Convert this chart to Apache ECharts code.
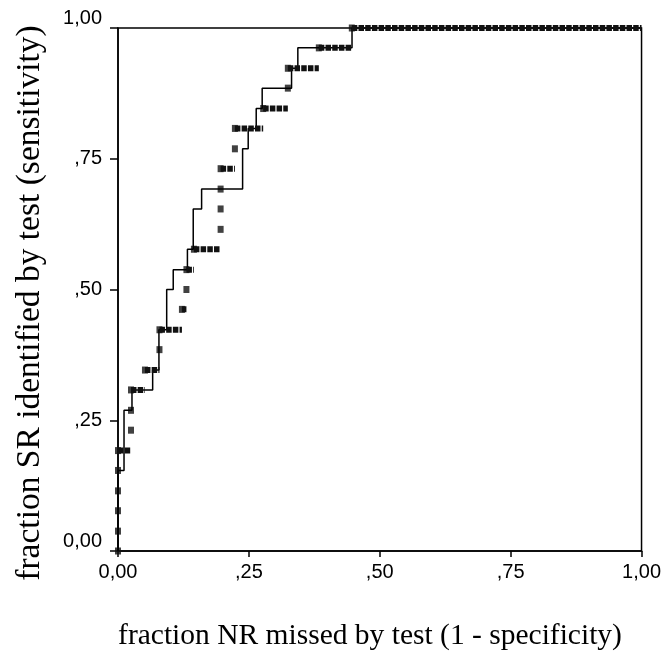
<!DOCTYPE html>
<html>
<head>
<meta charset="utf-8">
<script src="https://cdn.jsdelivr.net/npm/echarts@6/dist/echarts.min.js"></script>
<style>
  html, body { margin: 0; padding: 0; background: #fff; }
  #chart { width: 664px; height: 662px; }
</style>
</head>
<body>
<div id="chart"></div>
<script>
// tick labels (SPSS comma style)
const tickLabels = ['0,00', ',25', ',50', ',75', '1,00'];

// solid curve: x where each vertical step sits, and level reached there
const solidX = [0, 0.0115, 0.0267, 0.0662, 0.0782, 0.093, 0.1055, 0.1326, 0.1437, 0.1597, 0.238, 0.2487, 0.264, 0.2754, 0.3315, 0.3435, 0.447];
const solidY = [0.154, 0.269, 0.308, 0.346, 0.423, 0.500, 0.538, 0.577, 0.654, 0.692, 0.769, 0.808, 0.846, 0.885, 0.923, 0.962, 1.0];

// dashed curve: same layout
const dashX = [0, 0.0248, 0.0515, 0.0792, 0.1221, 0.1307, 0.145, 0.196, 0.2233, 0.2773, 0.3244, 0.3836, 0.4466];
const dashY = [0.192, 0.308, 0.346, 0.423, 0.462, 0.538, 0.577, 0.731, 0.808, 0.846, 0.923, 0.962, 1.0];

// dashed curve points on the vertical runs (drawn as single marks)
const dotX = [0, 0, 0, 0, 0, 0, 0.0248, 0.0248, 0.0248, 0.0515, 0.0792, 0.0792, 0.1221, 0.1307, 0.1307, 0.145, 0.196, 0.196, 0.196, 0.196, 0.2233, 0.2233, 0.2773, 0.3244, 0.3244, 0.3836, 0.4466];
const dotY = [0, 0.038, 0.077, 0.115, 0.154, 0.192, 0.231, 0.269, 0.308, 0.346, 0.385, 0.423, 0.462, 0.500, 0.538, 0.577, 0.615, 0.654, 0.692, 0.731, 0.769, 0.808, 0.846, 0.885, 0.923, 0.962, 1.0];

// step corners for the solid line
const solidPts = [[0, 0]];
solidX.forEach((x, i) => {
    const prev = i === 0 ? 0 : solidY[i - 1];
    solidPts.push([x, prev], [x, solidY[i]]);
});
solidPts.push([1, 1]);

// horizontal runs of the dashed line, split by nulls
const dashPts = [];
dashX.forEach((x, i) => {
    const next = i < dashX.length - 1 ? dashX[i + 1] : 1;
    dashPts.push([x, dashY[i]], [next, dashY[i]], '-');
});

const chart = echarts.init(document.getElementById('chart'));
const axisFont = { color: '#000', fontFamily: 'Liberation Sans', fontSize: 20 };
chart.setOption({
    animation: false,
    grid: { left: 118, top: 28, right: 22, bottom: 111, show: true, borderColor: '#000', borderWidth: 1.5 },
    xAxis: {
        type: 'value', min: 0, max: 1, interval: 0.25,
        splitLine: { show: false },
        axisLine: { lineStyle: { color: '#000', width: 1.5 } },
        axisTick: { length: 6, lineStyle: { color: '#000', width: 1.5 } },
        axisLabel: Object.assign({ margin: 11, formatter: v => tickLabels[Math.round(v / 0.25)] }, axisFont)
    },
    yAxis: {
        type: 'value', min: 0, max: 1, interval: 0.25,
        splitLine: { show: false },
        axisLine: { lineStyle: { color: '#000', width: 1.5 } },
        axisTick: { length: 8, lineStyle: { color: '#000', width: 1.5 } },
        axisLabel: Object.assign({
            margin: 16,
            verticalAlignMinLabel: 'bottom',
            verticalAlignMaxLabel: 'bottom',
            formatter: v => tickLabels[Math.round(v / 0.25)]
        }, axisFont)
    },
    graphic: [
        {
            type: 'text', x: 30, y: 303, rotation: Math.PI / 2,
            style: { text: 'fraction SR identified by test (sensitivity)', font: '33.5px "Liberation Serif"', fill: '#000', align: 'center', verticalAlign: 'middle' }
        },
        {
            type: 'text', x: 370, y: 636,
            style: { text: 'fraction NR missed by test (1 - specificity)', font: '29.5px "Liberation Serif"', fill: '#000', align: 'center', verticalAlign: 'middle' }
        }
    ],
    series: [
        {
            type: 'line', data: solidPts, showSymbol: false, clip: false,
            lineStyle: { color: '#000', width: 1.5 }
        },
        {
            type: 'line', data: dashPts, showSymbol: false, clip: false, connectNulls: false,
            lineStyle: { color: '#111', width: 6, type: [5.5, 1.2] }
        },
        {
            type: 'scatter', data: dotX.map((x, i) => [x, dotY[i]]), clip: false,
            symbol: 'rect', symbolSize: [6, 7],
            itemStyle: { color: '#111' }
        }
    ]
});
</script>
</body>
</html>
